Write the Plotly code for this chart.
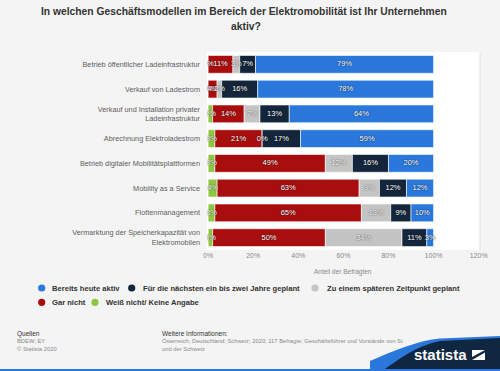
import plotly.graph_objects as go

categories = [
    "Betrieb öffentlicher Ladeinfrastruktur",
    "Verkauf von Ladestrom",
    "Verkauf und Installation privater<br>Ladeinfrastruktur",
    "Abrechnung Elektroladestrom",
    "Betrieb digitaler Mobilitätsplattformen",
    "Mobility as a Service",
    "Flottenmanagement",
    "Vermarktung der Speicherkapazität von<br>Elektromobilen",
]
weiss_nicht = [0, 0, 2, 3, 3, 4, 3, 2]
gar_nicht = [11, 4, 14, 21, 49, 63, 65, 50]
spaeter = [3, 2, 7, 0, 12, 9, 13, 34]
naechste = [7, 16, 13, 17, 16, 12, 9, 11]
bereits = [79, 78, 64, 59, 20, 12, 10, 3]

series = [
    ("Weiß nicht/ Keine Angabe", weiss_nicht, "#8DC63F"),
    ("Gar nicht", gar_nicht, "#A90E0E"),
    ("Zu einem späteren Zeitpunkt geplant", spaeter, "#C4C4C4"),
    ("Für die nächsten ein bis zwei Jahre geplant", naechste, "#14263B"),
    ("Bereits heute aktiv", bereits, "#2A78DC"),
]
x_ticks = [0, 20, 40, 60, 80, 100, 120]

FONT = "Liberation Sans, Arial, sans-serif"
W, H = 500, 371
L, R, T, B = 207, 480, 52, 250


def px(x):
    return (x - L) / (R - L)


def py(y):
    return (B - y) / (B - T)


fig = go.Figure()

base = [0] * len(categories)
label_x, label_y, label_t = [], [], []
for name, vals, col in series:
    fig.add_trace(go.Bar(
        y=categories, x=vals, base=base, orientation="h", name=name,
        marker=dict(color=col, line=dict(color="white", width=0.6)),
        showlegend=False, hoverinfo="skip", width=0.72,
    ))
    for i, v in enumerate(vals):
        label_x.append(base[i] + v / 2)
        label_y.append(categories[i])
        label_t.append(f"{v}%")
    base = [b + v for b, v in zip(base, vals)]

fig.add_trace(go.Scatter(
    x=label_x, y=label_y, text=label_t, mode="text", showlegend=False,
    hoverinfo="skip",
    textfont=dict(family=FONT, size=7.5, color="white",
                  shadow="0px 0px 1.5px #000000"),
))


def ann(text, x, y, size, color, xanchor="left", yanchor="top"):
    return dict(text=text, x=px(x), y=py(y), xref="paper", yref="paper",
                xanchor=xanchor, yanchor=yanchor, showarrow=False, align="left",
                font=dict(family=FONT, size=size, color=color))


annotations = [
    ann("<b>In welchen Geschäftsmodellen im Bereich der Elektromobilität ist Ihr Unternehmen</b>",
        244, 11, 10.3, "#333333", xanchor="center", yanchor="middle"),
    ann("<b>aktiv?</b>", 246, 27, 10.3, "#333333", xanchor="center", yanchor="middle"),
    ann("Anteil der Befragten", 343, 266, 6.5, "#888888", xanchor="center"),
    ann("Quellen", 15, 328, 6.5, "#333333"),
    ann("BDEW; EY<br>© Statista 2020", 15, 336, 5.8, "#888888"),
    ann("Weitere Informationen:", 160, 328, 6.5, "#333333"),
    ann("Österreich; Deutschland; Schweiz; 2020; 117 Befragte; Geschäftsführer und Vorstände von St<br>und der Schweiz",
        160, 336, 5.8, "#888888"),
]

shapes = []

legend_items = [
    (4, 41.7, 50, 288), (3, 131.7, 140.5, 288), (2, 315, 324.5, 288),
    (1, 41.7, 50, 302.3), (0, 95, 104, 302.3),
]
for idx, cx, tx, cy in legend_items:
    name, vals, col = series[idx]
    r = 3.6
    shapes.append(dict(type="circle", xref="paper", yref="paper",
                       x0=px(cx - r), x1=px(cx + r), y0=py(cy + r), y1=py(cy - r),
                       fillcolor=col, line=dict(width=0)))
    annotations.append(ann(f"<b>{name}</b>", tx, cy, 7.6, "#333333", yanchor="middle"))

swoosh_blue = (f"M {px(370)} {py(361)} "
               f"C {px(395)} {py(350)}, {px(420)} {py(340)}, {px(440)} {py(338.5)} "
               f"L {px(500)} {py(336)} L {px(500)} {py(371)} L {px(370)} {py(371)} Z")
swoosh = (f"M {px(382)} {py(371)} "
          f"C {px(398)} {py(360)}, {px(415)} {py(346)}, {px(440)} {py(341)} "
          f"L {px(500)} {py(338)} L {px(500)} {py(371)} Z")
shapes += [
    dict(type="path", path=swoosh_blue, xref="paper", yref="paper",
         fillcolor="#2A78DC", line=dict(width=0), layer="above"),
    dict(type="path", path=swoosh, xref="paper", yref="paper",
         fillcolor="#0F2741", line=dict(width=0), layer="above"),
    dict(type="rect", x0=px(0), x1=px(500), y0=py(371), y1=py(369), xref="paper", yref="paper",
         fillcolor="#2A78DC", line=dict(width=0), layer="above"),
    dict(type="path",
         path=(f"M {px(472)} {py(350)} L {px(485)} {py(350)} L {px(472)} {py(357)} Z "
               f"M {px(485)} {py(352.5)} L {px(485)} {py(360)} L {px(472)} {py(360)} Z"),
         xref="paper", yref="paper", fillcolor="white", line=dict(width=0), layer="above"),
    dict(type="line", x0=1, x1=1, y0=0, y1=1, xref="paper", yref="paper",
         line=dict(color="#E2E2E2", width=1)),
]

annotations.append(dict(text="<b>statista</b>", x=px(469), y=py(354.5), xref="paper", yref="paper",
                        xanchor="right", yanchor="middle", showarrow=False,
                        font=dict(family=FONT, size=15, color="white")))

fig.update_layout(
    width=W, height=H,
    margin=dict(l=L, r=W - R, t=T, b=H - B, autoexpand=False),
    paper_bgcolor="#F4F4F4", plot_bgcolor="#FFFFFF",
    barmode="overlay",
    font=dict(family=FONT),
    xaxis=dict(range=[-0.5, 120.6], tickvals=x_ticks, ticktext=[f"{t}%" for t in x_ticks],
               showgrid=False, zeroline=False, showline=False, ticks="", automargin=False,
               tickfont=dict(size=7, color="#888888"), fixedrange=True),
    yaxis=dict(autorange="reversed", showgrid=False, zeroline=False, ticks="", automargin=False,
               tickfont=dict(size=7.3, color="#5E5E5E"), ticklabelstandoff=6, fixedrange=True),
    annotations=annotations,
    shapes=shapes,
    showlegend=False,
)

fig.write_html("out.html", config={"displayModeBar": False, "staticPlot": True},
               post_script="document.body.style.margin='0px';document.body.style.background='#F4F4F4';")
